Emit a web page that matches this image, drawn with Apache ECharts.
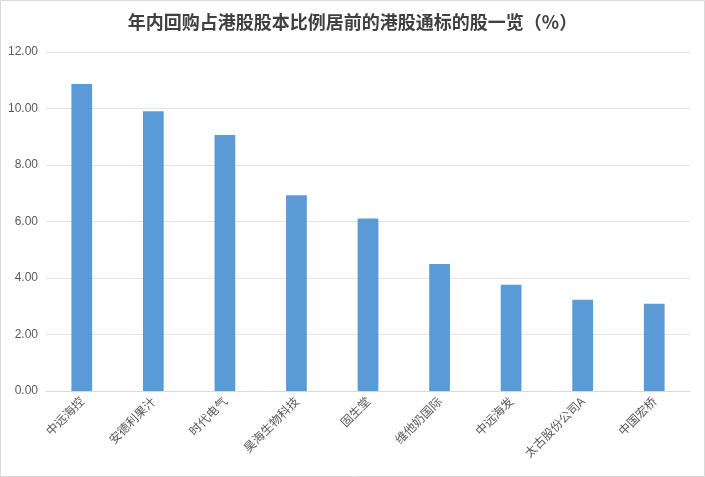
<!DOCTYPE html>
<html><head><meta charset="utf-8">
<script src="https://cdn.jsdelivr.net/npm/echarts@6/dist/echarts.min.js"></script>
<style>html,body{margin:0;padding:0;background:#fff}#c{width:705px;height:477px}</style>
</head><body><div id="c"></div>
<script>
const categories = ['中远海控','安德利果汁','时代电气','昊海生物科技','固生堂','维他奶国际','中远海发','太古股份公司A','中国宏桥'];
const values = [10.87, 9.90, 9.06, 6.93, 6.11, 4.50, 3.76, 3.23, 3.09];
const titleText = '年内回购占港股股本比例居前的港股通标的股一览（%）';

const chart = echarts.init(document.getElementById('c'));
chart.setOption({
  animation: false,
  backgroundColor: '#fff',
  title: {
    text: titleText, left: 'center', top: 8,
    textStyle: {fontSize: 18, fontWeight: 'bold', color: '#404040', fontFamily: '"Noto Sans CJK SC", sans-serif'}
  },
  graphic: [{type: 'rect', shape: {x: 0.5, y: 0.5, width: 704, height: 476}, style: {fill: 'none', stroke: '#d9d9d9', lineWidth: 1}}],
  grid: {left: 46, right: 15, top: 52, bottom: 86},
  xAxis: {
    type: 'category', data: categories,
    axisLine: {lineStyle: {color: '#d9d9d9'}},
    axisTick: {show: false},
    axisLabel: {rotate: 45, interval: 0, color: '#595959', fontSize: 12, margin: 8, fontFamily: '"Noto Sans CJK SC", sans-serif'}
  },
  yAxis: {
    type: 'value', min: 0, max: 12, interval: 2,
    axisLine: {show: false}, axisTick: {show: false},
    splitLine: {lineStyle: {color: '#e3e3e3'}},
    axisLabel: {formatter: v => v.toFixed(2), color: '#595959', fontSize: 12, margin: 8, fontFamily: 'Liberation Sans, sans-serif'}
  },
  series: [{
    type: 'bar', data: values, barWidth: '29%',
    itemStyle: {color: '#5b9bd5'}
  }]
});
</script></body></html>
